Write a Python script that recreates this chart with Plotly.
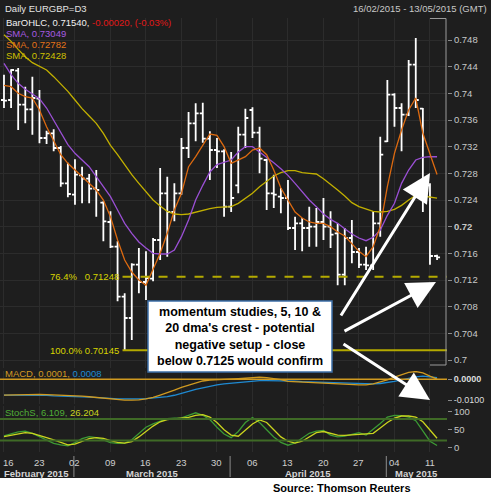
import plotly.graph_objects as go
from plotly.subplots import make_subplots
import pandas as pd

# ---------------- data ----------------
dates = pd.bdate_range("2015-02-16", periods=62)

opens = [0.7390, 0.7390, 0.7434, 0.7383, 0.7376, 0.7392, 0.7333, 0.7340, 0.7318, 0.7265,
         0.7248, 0.7277, 0.7272, 0.7257, 0.7236, 0.7207, 0.7170, 0.7095, 0.7063, 0.7143,
         0.7117, 0.7122, 0.7180, 0.7250, 0.7222, 0.7250, 0.7318, 0.7355, 0.7370, 0.7332,
         0.7315, 0.7313, 0.7230, 0.7262, 0.7338, 0.7375, 0.7341, 0.7300, 0.7250, 0.7245,
         0.7243, 0.7198, 0.7205, 0.7198, 0.7200, 0.7207, 0.7200, 0.7190, 0.7128, 0.7183,
         0.7162, 0.7143, 0.7142, 0.7205, 0.7328, 0.7398, 0.7378, 0.7368, 0.7443, 0.7377,
         0.7262, 0.7156]
highs = [0.7428, 0.7436, 0.7438, 0.7410, 0.7425, 0.7405, 0.7344, 0.7346, 0.7321, 0.7296,
         0.7301, 0.7290, 0.7279, 0.7285, 0.7238, 0.7223, 0.7178, 0.7100, 0.7145, 0.7168,
         0.7163, 0.7183, 0.7288, 0.7275, 0.7265, 0.7333, 0.7372, 0.7385, 0.7386, 0.7343,
         0.7333, 0.7316, 0.7312, 0.7350, 0.7377, 0.7379, 0.7350, 0.7302, 0.7278, 0.7258,
         0.7270, 0.7215, 0.7213, 0.7230, 0.7228, 0.7243, 0.7223, 0.7205, 0.7198, 0.7210,
         0.7168, 0.7170, 0.7223, 0.7335, 0.7420, 0.7400, 0.7385, 0.7450, 0.7483, 0.7378,
         0.7265, 0.7158]
lows = [0.7378, 0.7378, 0.7345, 0.7355, 0.7338, 0.7325, 0.7324, 0.7313, 0.7260, 0.7244,
        0.7233, 0.7235, 0.7235, 0.7215, 0.7178, 0.7168, 0.7088, 0.7014, 0.7030, 0.7100,
        0.7090, 0.7118, 0.7150, 0.7155, 0.7208, 0.7248, 0.7303, 0.7328, 0.7326, 0.7270,
        0.7288, 0.7215, 0.7222, 0.7250, 0.7318, 0.7333, 0.7280, 0.7225, 0.7228, 0.7220,
        0.7195, 0.7165, 0.7163, 0.7170, 0.7170, 0.7180, 0.7168, 0.7112, 0.7112, 0.7145,
        0.7138, 0.7135, 0.7135, 0.7185, 0.7327, 0.7350, 0.7313, 0.7366, 0.7378, 0.7222,
        0.7143, 0.7150]
closes = [0.7389, 0.7435, 0.7383, 0.7376, 0.7393, 0.7333, 0.7340, 0.7318, 0.7265, 0.7249,
          0.7278, 0.7272, 0.7257, 0.7255, 0.7208, 0.7170, 0.7095, 0.7063, 0.7143, 0.7117,
          0.7123, 0.7180, 0.7250, 0.7222, 0.7250, 0.7318, 0.7355, 0.7370, 0.7332, 0.7315,
          0.7313, 0.7230, 0.7243, 0.7338, 0.7363, 0.7341, 0.7302, 0.7250, 0.7248, 0.7243,
          0.7198, 0.7205, 0.7198, 0.7200, 0.7207, 0.7200, 0.7188, 0.7128, 0.7183, 0.7162,
          0.7143, 0.7142, 0.7205, 0.7308, 0.7398, 0.7378, 0.7368, 0.7443, 0.7390, 0.7270,
          0.7156, 0.7154]

sma5 = [0.7412, 0.7410, 0.7400, 0.7395, 0.7393, 0.7375, 0.7350, 0.7330, 0.7308, 0.7295,
        0.7285, 0.7275, 0.7265, 0.7255, 0.7240, 0.7215, 0.7180, 0.7150, 0.7132, 0.7120,
        0.7112, 0.7135, 0.7160, 0.7190, 0.7225, 0.7250, 0.7290, 0.7305, 0.7322, 0.7339,
        0.7337, 0.7320, 0.7295, 0.7300, 0.7305, 0.7315, 0.7318, 0.7308, 0.7285, 0.7258,
        0.7240, 0.7222, 0.7213, 0.7207, 0.7205, 0.7205, 0.7200, 0.7192, 0.7186, 0.7175,
        0.7163, 0.7155, 0.7170, 0.7200, 0.7260, 0.7310, 0.7345, 0.7375, 0.7393, 0.7340,
        0.7310, 0.72782]
sma10 = [0.7445, 0.7428, 0.7415, 0.7406, 0.7399, 0.7392, 0.7378, 0.7360, 0.7342, 0.7323,
         0.7310, 0.7300, 0.7290, 0.7275, 0.7260, 0.7245, 0.7225, 0.7205, 0.7190, 0.7177,
         0.7168, 0.7160, 0.7159, 0.7159, 0.7165, 0.7185, 0.7210, 0.7240, 0.7262, 0.7282,
         0.7293, 0.7297, 0.7300, 0.7312, 0.7320, 0.7320, 0.7312, 0.7305, 0.7296, 0.7287,
         0.7277, 0.7265, 0.7253, 0.7240, 0.7230, 0.7219, 0.7211, 0.7205, 0.7197, 0.7189,
         0.7183, 0.7179, 0.7184, 0.7195, 0.7217, 0.7235, 0.7265, 0.7285, 0.7300, 0.7304,
         0.7305, 0.73049]
sma20 = [0.7488, 0.7478, 0.7466, 0.7455, 0.7446, 0.7440, 0.7435, 0.7425, 0.7414, 0.7403,
         0.7390, 0.7377, 0.7366, 0.7355, 0.7340, 0.7322, 0.7308, 0.7292, 0.7278, 0.7265,
         0.7252, 0.7240, 0.7231, 0.7223, 0.7219, 0.7218, 0.7219, 0.7222, 0.7224, 0.7227,
         0.7229, 0.7229, 0.7230, 0.7235, 0.7242, 0.7250, 0.7260, 0.7268, 0.7276, 0.7281,
         0.7284, 0.7284, 0.7281, 0.7280, 0.7279, 0.7272, 0.7264, 0.7255, 0.7246, 0.7236,
         0.7230, 0.7226, 0.7223, 0.7222, 0.7223, 0.7226, 0.7232, 0.7240, 0.7247, 0.7246,
         0.7244, 0.72428]

macd = [-0.0075, -0.0074, -0.0073, -0.0072, -0.0072, -0.0072, -0.0073, -0.0074, -0.0075, -0.0076,
        -0.0078, -0.0080, -0.0083, -0.0086, -0.0090, -0.0095, -0.0098, -0.0099, -0.0099, -0.0098,
        -0.0093, -0.0086, -0.0075, -0.0065, -0.0052, -0.0038, -0.0028, -0.0015, -0.0008, -0.0004,
        -0.0003, -0.0001, 0.0001, 0.0003, 0.0005, 0.0008, 0.0010, 0.0008, 0.0004, -0.0002,
        -0.0010, -0.0012, -0.0014, -0.0015, -0.0016, -0.0019, -0.0022, -0.0024, -0.0025, -0.0026,
        -0.0027, -0.0027, -0.0022, -0.0012, -0.0003, 0.0010, 0.0022, 0.0033, 0.0037, 0.0031,
        0.0015, 0.0001]
signal = [-0.0075, -0.0075, -0.0075, -0.0075, -0.0075, -0.0076, -0.0077, -0.0079, -0.0081, -0.0082,
          -0.0083, -0.0084, -0.0085, -0.0086, -0.0088, -0.0091, -0.0093, -0.0094, -0.0094, -0.0093,
          -0.0092, -0.0090, -0.0087, -0.0083, -0.0076, -0.0068, -0.0058, -0.0048, -0.0040, -0.0033,
          -0.0027, -0.0022, -0.0019, -0.0015, -0.0011, -0.0008, -0.0006, -0.0006, -0.0006, -0.0007,
          -0.0008, -0.0009, -0.0011, -0.0012, -0.0014, -0.0016, -0.0018, -0.0019, -0.0020, -0.0021,
          -0.0022, -0.0022, -0.0022, -0.0020, -0.0016, -0.0010, -0.0003, 0.0005, 0.0012, 0.0015,
          0.0013, 0.0008]

stoch_k = [33, 38, 44, 46, 40, 31, 21, 12, 8, 5,
           14, 25, 31, 28, 22, 14, 12, 13, 22, 40,
           57, 66, 74, 81, 82, 83, 90, 97, 90, 78,
           57, 38, 28, 45, 70, 84, 70, 50, 30, 15,
           7, 13, 26, 40, 46, 48, 35, 30, 32, 38,
           42, 35, 50, 67, 85, 90, 89, 85, 75, 45,
           18, 6.109]
stoch_d = [31, 35, 40, 42, 40, 35, 28, 22, 14, 8,
           10, 17, 25, 28, 26, 20, 15, 13, 17, 30,
           46, 60, 72, 78, 80, 82, 84, 90, 92, 85,
           70, 50, 35, 32, 50, 66, 77, 70, 50, 30,
           18, 13, 18, 30, 42, 45, 40, 35, 34, 35,
           37, 38, 40, 55, 70, 82, 88, 88, 85, 72,
           50, 26.204]

fib_levels = [0.71248, 0.70145]
fib_labels = ["76.4%&nbsp;&nbsp;&nbsp;0.71248", "100.0% 0.70145"]

price_ticks = [0.700, 0.704, 0.708, 0.712, 0.716, 0.720, 0.724, 0.728, 0.732, 0.736, 0.740, 0.744, 0.748]
price_tick_labels = ["0.7", "0.704", "0.708", "0.712", "0.716", "<b>0.72</b>", "0.724", "0.728",
                     "0.732", "0.736", "0.74", "0.744", "0.748"]
macd_ticks = [0.0, -0.01]
macd_tick_labels = ["<b>0.0000</b>", "-0.0100"]
stoch_ticks = [100, 50, 0]
stoch_tick_labels = ["100", "50", "0"]
stoch_bands = [80, 20]
day_tick_labels = ["16", "23", "02", "09", "16", "23", "30", "06", "13", "20", "27", "04", "11"]
month_labels = ["February 2015", "March 2015", "April 2015", "May 2015"]

note_lines = ["momentum studies, 5, 10 &", "20 dma's crest - potential",
              "negative setup - close", "below 0.7125 would confirm"]

# ---------------- styling ----------------
BG = "#1e1e1e"
GRID = "#2c2c2c"
FONT = "Liberation Sans, Arial, sans-serif"
C_PURPLE = "#9a4fd4"
C_ORANGE = "#dd6a10"
C_YELLOW = "#c2b000"
C_MACD = "#d09a20"
C_SIG = "#1f8ad2"
C_K = "#3c9a34"
C_D = "#cad41e"
C_FIB = "#b4aa00"

W, H = 491, 502
ML, MR, MT, MB = 0, 44, 18, 50
PW, PH = W - ML - MR, H - MT - MB


def px(xp, yp):
    """pixel position of the page -> paper coordinates"""
    return (xp - ML) / PW, (H - MB - yp) / PH


idx = list(range(len(dates)))
n = len(idx)
x_lo, x_hi = -0.56, n + 0.4
mondays = [i for i, d in enumerate(dates) if d.weekday() == 0]
month_starts = [i for i in range(1, n) if dates[i].month != dates[i - 1].month]

fig = make_subplots(rows=3, cols=1, shared_xaxes=True, vertical_spacing=0)

# main panel
fig.add_trace(go.Ohlc(x=idx, open=opens, high=highs, low=lows, close=closes,
                      increasing=dict(line=dict(color="white", width=1.8)),
                      decreasing=dict(line=dict(color="white", width=1.8)),
                      tickwidth=0.42, hoverinfo="skip"), row=1, col=1)
for s, c in [(sma20, C_YELLOW), (sma10, C_PURPLE), (sma5, C_ORANGE)]:
    fig.add_trace(go.Scatter(x=idx, y=s, mode="lines", line=dict(color=c, width=1.3),
                             hoverinfo="skip"), row=1, col=1)

fib_start = lows.index(min(lows)) - 0.3
for lev, dash in zip(fib_levels, ["dash", "solid"]):
    fig.add_trace(go.Scatter(x=[fib_start, x_hi], y=[lev, lev], mode="lines",
                             line=dict(color=C_FIB, width=2, dash=dash), hoverinfo="skip"),
                  row=1, col=1)

x_mark = n - 1 + 1.9
for val, c in [(sma10[-1], C_PURPLE), (sma5[-1], C_ORANGE), (sma20[-1], "#f0e000"), (closes[-1], "white")]:
    fig.add_trace(go.Scatter(x=[x_mark], y=[val], mode="markers", cliponaxis=False,
                             marker=dict(symbol="diamond", size=7, color=c), hoverinfo="skip"),
                  row=1, col=1)

# MACD panel
fig.add_trace(go.Scatter(x=idx, y=signal, mode="lines", line=dict(color=C_SIG, width=1.3),
                         hoverinfo="skip"), row=2, col=1)
fig.add_trace(go.Scatter(x=idx, y=macd, mode="lines", line=dict(color=C_MACD, width=1.3),
                         hoverinfo="skip"), row=2, col=1)
for val, c in [(macd[-1], C_MACD), (signal[-1], C_SIG)]:
    fig.add_trace(go.Scatter(x=[x_mark], y=[val], mode="markers", cliponaxis=False,
                             marker=dict(symbol="diamond", size=7, color=c), hoverinfo="skip"),
                  row=2, col=1)

# Stochastic panel
fig.add_trace(go.Scatter(x=idx, y=stoch_k, mode="lines", line=dict(color=C_K, width=1.3),
                         hoverinfo="skip"), row=3, col=1)
fig.add_trace(go.Scatter(x=idx, y=stoch_d, mode="lines", line=dict(color=C_D, width=1.3),
                         hoverinfo="skip"), row=3, col=1)
for val, c in [(stoch_d[-1], "#f0f000"), (stoch_k[-1], C_K)]:
    fig.add_trace(go.Scatter(x=[x_mark], y=[val], mode="markers", cliponaxis=False,
                             marker=dict(symbol="diamond", size=7, color=c), hoverinfo="skip"),
                  row=3, col=1)

shapes = []
# MACD zero line and stochastic bands
shapes.append(dict(type="line", xref="paper", x0=0, x1=1, yref="y2", y0=0, y1=0,
                   line=dict(color=C_MACD, width=1.5)))
for b in stoch_bands:
    shapes.append(dict(type="line", xref="paper", x0=0, x1=1, yref="y3", y0=b, y1=b,
                       line=dict(color="#3f6a26", width=2)))
# price-range bracket on the right
for (a, b) in [((430, 18.5), (446, 18.5)), ((446, 18.5), (446, 365)), ((430, 365), (446, 365))]:
    p0, p1 = px(*a), px(*b)
    shapes.append(dict(type="line", xref="paper", yref="paper", x0=p0[0], y0=p0[1], x1=p1[0], y1=p1[1],
                       line=dict(color="#9a9a9a", width=1)))
# month separators
for m in month_starts:
    shapes.append(dict(type="line", xref="x3", yref="paper", x0=m - 0.15, x1=m - 0.15,
                       y0=px(0, 456)[1], y1=px(0, 477)[1], line=dict(color="#8c8c8c", width=1)))
# white strip at the bottom
shapes.append(dict(type="rect", xref="paper", yref="paper", x0=-0.01, x1=W / PW + 0.01,
                   y0=px(0, 478)[1], y1=px(0, H + 2)[1], fillcolor="white", line=dict(width=0),
                   layer="above"))
# note box
b0, b1 = px(148, 301), px(332, 372)
shapes.append(dict(type="rect", xref="paper", yref="paper", x0=b0[0], y0=b0[1], x1=b1[0], y1=b1[1],
                   fillcolor="white", line=dict(color="#3d6fa8", width=1.5), layer="above"))

ann = []


def text_at(xp, yp, txt, size=9.5, color="#d0d0d0", anchor="left", bold=False):
    p = px(xp, yp)
    ann.append(dict(xref="paper", yref="paper", x=p[0], y=p[1], text=f"<b>{txt}</b>" if bold else txt,
                    showarrow=False, xanchor=anchor, yanchor="middle",
                    font=dict(family=FONT, size=size, color=color)))


text_at(3, 9, "Daily EURGBP=D3", color="#e4e4e4")
chg = closes[-1] - closes[-2]
text_at(4, 22.5, f"BarOHLC, {closes[-1]:.5f}, <span style='color:#e01818'>{chg:.5f}, "
                 f"({chg / closes[-2] * 100:.2f}%)</span>", color="#f0f0f0")
text_at(4, 33.5, f"SMA, {sma10[-1]:.5f}", color="#a65ae0")
text_at(4, 44.5, f"SMA, {sma5[-1]:.5f}", color="#e4741a")
text_at(4, 55.5, f"SMA, {sma20[-1]:.5f}", color="#cfc000")
text_at(489, 8.5, f"{dates[0]:%d/%m/%Y} - 13/05/2015 (GMT)", color="#c8c8c8", anchor="right")
text_at(3, 373.5, f"MACD, {macd[-1]:.4f}, <span style='color:{C_SIG}'>{signal[-1]:.4f}</span>",
        color="#d39a22")
text_at(3, 412, f"StochS, {stoch_k[-1]:.3f}, <span style='color:{C_D}'>{stoch_d[-1]:.3f}</span>",
        color="#4fae36")

# fib labels
for lev, lab in zip(fib_levels, fib_labels):
    ann.append(dict(xref="x", yref="y", x=fib_start - 0.25, y=lev, text=lab, showarrow=False,
                    xanchor="right", yanchor="middle", font=dict(family=FONT, size=9.5, color="#d8d400")))

# day labels under the lower panel
for i, lab in zip(mondays, day_tick_labels):
    near_edge = i - x_lo < 1.0
    ann.append(dict(xref="x3", yref="paper", x=(x_lo + 0.2) if near_edge else i, y=px(0, 462)[1],
                    text=lab, showarrow=False, xanchor="left" if near_edge else "center",
                    yanchor="middle", font=dict(family=FONT, size=9.5, color="#cfcfcf")))

# month labels
bounds = [x_lo] + [m - 0.15 for m in month_starts] + [x_hi]
for k, lab in enumerate(month_labels):
    ann.append(dict(xref="x3", yref="paper", x=(bounds[k] + bounds[k + 1]) / 2, y=px(0, 473)[1],
                    text=f"<b>{lab}</b>", showarrow=False, xanchor="center", yanchor="middle",
                    font=dict(family=FONT, size=9.5, color="#d4d4d4")))

# note text
c = px(240, 336.5)
ann.append(dict(xref="paper", yref="paper", x=c[0], y=c[1], text="<b>" + "<br>".join(note_lines) + "</b>",
                showarrow=False, xanchor="center", yanchor="middle", align="center",
                font=dict(family=FONT, size=12.5, color="black")))
# arrows (tip, tail) in page pixels
for tip, tail in [((430, 173), (340, 317)), ((436, 282), (343, 332)), ((430, 400), (342, 343))]:
    p = px(*tip)
    ann.append(dict(xref="paper", yref="paper", x=p[0], y=p[1], ax=tail[0] - tip[0], ay=tail[1] - tip[1],
                    text="", showarrow=True, arrowhead=2, arrowsize=1.9, arrowwidth=3,
                    arrowcolor="white"))

# source
text_at(341.5, 488, "Source: Thomson Reuters", size=11, color="black", anchor="center", bold=True)

fig.update_layout(
    width=W, height=H, margin=dict(l=ML, r=MR, t=MT, b=MB),
    paper_bgcolor=BG, plot_bgcolor=BG, showlegend=False,
    font=dict(family=FONT, size=9.5, color="#c8c8c8"),
    shapes=shapes, annotations=ann,
)

axis_font = dict(family=FONT, size=9.5, color="#c8c8c8")
fig.update_xaxes(range=[x_lo, x_hi], tickvals=mondays, showticklabels=False,
                 showgrid=True, gridcolor=GRID, gridwidth=1, zeroline=False,
                 rangeslider_visible=False, ticks="")

fig.update_yaxes(domain=[px(0, 368)[1], 1], range=[0.6988, 0.7513], side="right",
                 tickvals=price_ticks, ticktext=price_tick_labels, ticks="outside", ticklen=4,
                 tickcolor="#8a8a8a", showline=False, gridcolor=GRID, zeroline=False,
                 tickfont=axis_font, row=1, col=1)
fig.update_yaxes(domain=[px(0, 404)[1], px(0, 371)[1]], range=[-0.01176, 0.00395], side="right",
                 tickvals=macd_ticks, ticktext=macd_tick_labels, ticks="outside", ticklen=4,
                 tickcolor="#8a8a8a", showgrid=False, zeroline=False,
                 tickfont=dict(family=FONT, size=9, color="#dcdcdc"), row=2, col=1)
fig.update_yaxes(domain=[0, px(0, 406)[1]], range=[-11.9, 115.8], side="right",
                 tickvals=stoch_ticks, ticktext=stoch_tick_labels, ticks="outside", ticklen=4,
                 tickcolor="#8a8a8a", showgrid=False, zeroline=False,
                 tickfont=axis_font, row=3, col=1)

fig.write_html("out.html", config={"displayModeBar": False},
               post_script="document.body.style.margin='0';document.body.style.overflow='hidden';")
